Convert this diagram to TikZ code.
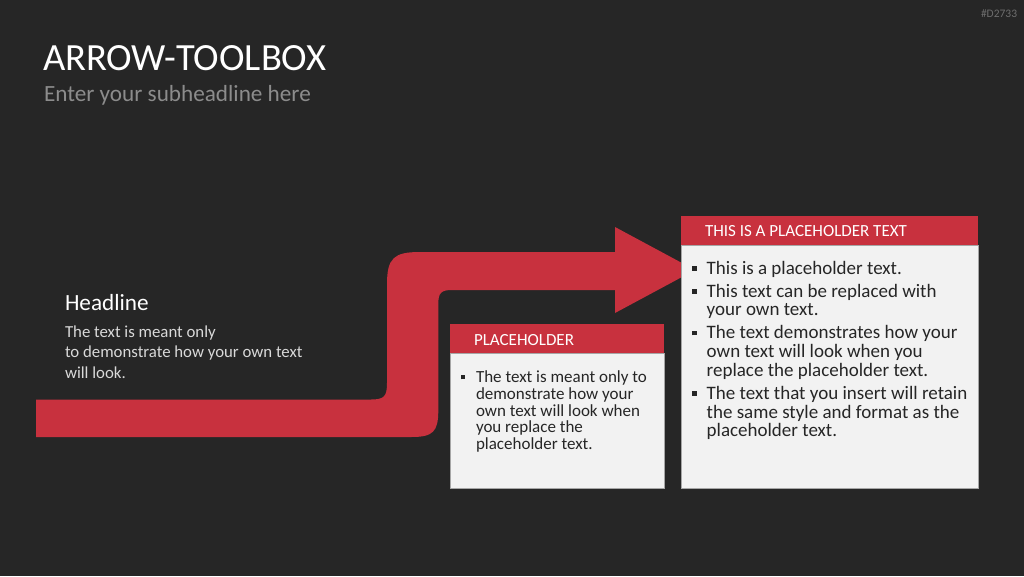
\documentclass[tikz,border=0pt]{standalone}
\usepackage{fontspec}
\setmainfont{Carlito}
\definecolor{bg}{HTML}{262626}
\definecolor{accent}{HTML}{C8313E}
\definecolor{boxfill}{HTML}{F2F2F2}
\definecolor{boxline}{HTML}{A6A6A6}
\definecolor{boxtext}{HTML}{262626}
\definecolor{subgray}{HTML}{8C8C8C}
\definecolor{bodygray}{HTML}{D9D9D9}
\definecolor{taggray}{HTML}{6E6E6E}
\newcommand{\sqbul}[2]{\rule[#1]{#2}{#2}}
\tikzset{
  txt/.style={inner sep=0pt, outer sep=0pt, anchor=base west},
  headbar/.style={fill=accent, draw=none, inner sep=0pt, anchor=north west},
  bodybox/.style={fill=boxfill, draw=boxline, line width=0.6pt, inner sep=0pt, anchor=north west},
}
\begin{document}
\begin{tikzpicture}[x=1pt,y=-1pt]
\fill[bg] (0,0) rectangle (1024,576);
\useasboundingbox (0,0) rectangle (1024,576);

% tag
\node[txt, text=taggray, font=\fontsize{11.5}{13}\selectfont] (tag) at (981,17.3) {\#D2733};

% title
\node[txt, text=white, font=\fontsize{38.5}{44}\selectfont] (title) at (43,70.5) {ARROW-TOOLBOX};
\node[txt, text=subgray, font=\fontsize{23.2}{28}\selectfont] (sub) at (44,101.5) {Enter your subheadline here};

% left text
\node[txt, text=white, font=\fontsize{23.2}{26}\selectfont] (head) at (65,310) {Headline};
\node[txt, text=bodygray, font=\fontsize{16.8}{20.5}\selectfont] (lbody) at (65,337.3)
  {\begin{tabular}[t]{@{}l@{}}The text is meant only\\to demonstrate how your own text\\will look.\end{tabular}};

% arrow
\fill[accent] (36,399.5) -- (371,399.5) .. controls (384,399.5) and (387,396.5) .. (387,383)
  -- (387,284) .. controls (387,258) and (394,252) .. (420,252)
  -- (615,252) -- (615,227) -- (695,270) -- (615,313) -- (615,290)
  -- (452,290) .. controls (441,290) and (438.3,293) .. (438.3,304)
  -- (438.3,410) .. controls (438.3,432) and (433,437) .. (411,437)
  -- (36,437) -- cycle;

% box 1
\node[bodybox, minimum width=213.5pt, minimum height=134.5pt] (b1body) at (450,353) {};
\node[headbar, minimum width=213.5pt, minimum height=29pt] (b1head) at (450,324) {};
\node[txt, text=white, font=\fontsize{17}{20}\selectfont] (b1title) at (474,345) {PLACEHOLDER};
\node[txt, text=boxtext, font=\fontsize{17}{16.2}\selectfont] (b1list) at (460.7,382.7)
  {\begin{tabular}[t]{@{}p{15.3pt}@{}l@{}}
  \sqbul{3.3pt}{4.4pt} & The text is meant only to\\
   & demonstrate how your\\
   & own text will look when\\
   & you replace the\\
   & placeholder text.
  \end{tabular}};

% box 2
\node[bodybox, minimum width=297pt, minimum height=242.5pt] (b2body) at (681,245) {};
\node[headbar, minimum width=297pt, minimum height=29pt] (b2head) at (681,216) {};
\node[txt, text=white, font=\fontsize{17}{20}\selectfont] (b2title) at (705,236) {THIS IS A PLACEHOLDER TEXT};
\node[txt, text=boxtext, font=\fontsize{19}{18.3}\selectfont] (b2list) at (692.3,274.3)
  {\begin{tabular}[t]{@{}p{14.4pt}@{}l@{}}
  \sqbul{3.6pt}{4.7pt} & This is a placeholder text.\\[4.5pt]
  \sqbul{3.6pt}{4.7pt} & This text can be replaced with\\
   & your own text.\\[4.5pt]
  \sqbul{3.6pt}{4.7pt} & The text demonstrates how your\\
   & own text will look when you\\
   & replace the placeholder text.\\[4.5pt]
  \sqbul{3.6pt}{4.7pt} & The text that you insert will retain\\
   & the same style and format as the\\
   & placeholder text.
  \end{tabular}};
\end{tikzpicture}
\end{document}
